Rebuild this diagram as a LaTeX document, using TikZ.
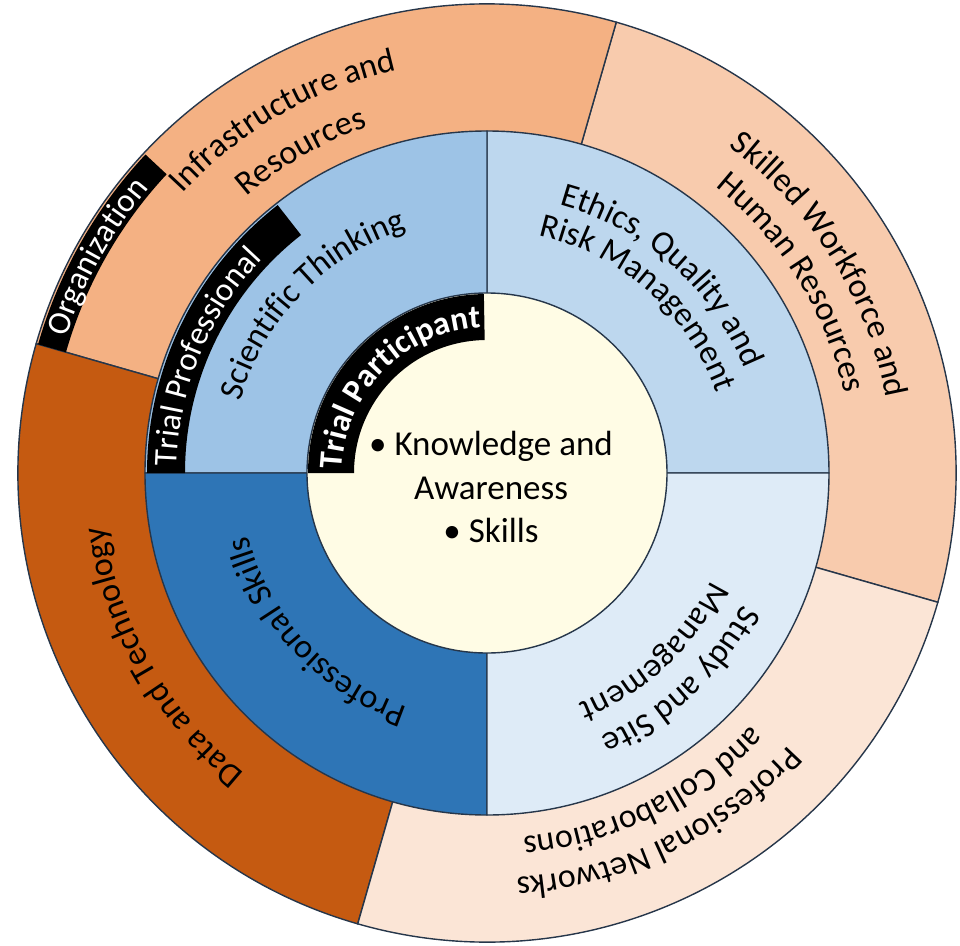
\documentclass[tikz,border=0pt]{standalone}
\usepackage{fontspec}
\setmainfont{Carlito}
\usetikzlibrary{decorations.text}
\definecolor{infra}{HTML}{F4B183}
\definecolor{workforce}{HTML}{F8CBAD}
\definecolor{networks}{HTML}{FBE5D6}
\definecolor{datatech}{HTML}{C55A11}
\definecolor{scithink}{HTML}{9DC3E6}
\definecolor{ethics}{HTML}{BDD7EE}
\definecolor{studysite}{HTML}{DEEBF7}
\definecolor{proskills}{HTML}{2E75B6}
\definecolor{core}{HTML}{FFFCE5}
\definecolor{edge}{HTML}{26364A}
\newcommand{\ringfont}{\fontsize{34}{40}\selectfont}
\newcommand{\bandfont}{\fontsize{33}{40}\selectfont\color{white}}

\begin{document}
\begin{tikzpicture}[x=1pt, y=1pt, line width=1.4pt,
		slice/.style={draw=edge},
		band/.style={fill=black},
		ringlabel/.style={decorate, decoration={text along path, text align=center,
				text={|\ringfont|#1}}},
		bandlabel/.style={decorate, decoration={text along path, text align=center,
				text={|\bandfont|#1}}},
		boldlabel/.style={decorate, decoration={text along path, text align=center,
				text={|\bandfont\bfseries|#1}}}]
			\useasboundingbox (-487,-472) rectangle (473,473);

			\foreach \a/\b/\c in {-16/74/workforce, 74/164/infra, 164/254/datatech, 254/344/networks}
				\filldraw[slice, fill=\c] (0,0) -- (\a:469) arc[start angle=\a, end angle=\b, radius=469] -- cycle;
			\foreach \a/\b/\c in {0/90/ethics, 90/180/scithink, 180/270/proskills, 270/360/studysite}
				\filldraw[slice, fill=\c] (0,0) -- (\a:342) arc[start angle=\a, end angle=\b, radius=342] -- cycle;
			\filldraw[slice, fill=core] (0,0) circle[radius=180];

			\fill[band] (137:438) arc[start angle=137, end angle=164, radius=438]
				-- (164:467) arc[start angle=164, end angle=137, radius=467] -- cycle;
			\fill[band] (128:302) arc[start angle=128, end angle=180, radius=302]
				-- (180:340) arc[start angle=180, end angle=128, radius=340] -- cycle;
			\fill[band] (91:133) arc[start angle=91, end angle=180, radius=133]
				-- (180:179) arc[start angle=180, end angle=91, radius=179] -- cycle;

			\path[bandlabel={Organization}] (201:442) arc[start angle=201, end angle=101, radius=442];
			\path[bandlabel={Trial Professional}] (212:310) arc[start angle=212, end angle=103, radius=310];
			\path[boldlabel={Trial Participant}] (195:145) arc[start angle=195, end angle=76, radius=145];

			\path[ringlabel={Infrastructure and}] (170:413) arc[start angle=170, end angle=70, radius=413];
			\path[ringlabel={Resources}] (170:366) arc[start angle=170, end angle=70, radius=366];
			\path[ringlabel={Skilled Workforce and}] (82:406) arc[start angle=82, end angle=-18, radius=406];
			\path[ringlabel={Human Resources}] (82:366) arc[start angle=82, end angle=-18, radius=366];
			\path[ringlabel={Data and Technology}] (259.5:386) arc[start angle=259.5, end angle=159.5, radius=386];
			\path[ringlabel={Professional Networks}] (346:406) arc[start angle=346, end angle=246, radius=406];
			\path[ringlabel={and Collaborations}] (346:366) arc[start angle=346, end angle=246, radius=366];

			\path[ringlabel={Scientific Thinking}] (186:257) arc[start angle=186, end angle=86, radius=257];
			\path[ringlabel={Ethics, Quality and}] (98.5:278) arc[start angle=98.5, end angle=-1.5, radius=278];
			\path[ringlabel={Risk Management}] (98.5:243) arc[start angle=98.5, end angle=-1.5, radius=243];
			\path[ringlabel={Professional Skills}] (273:247) arc[start angle=273, end angle=173, radius=247];
			\path[ringlabel={Study and Site}] (363:287) arc[start angle=363, end angle=263, radius=287];
			\path[ringlabel={Management}] (363:248) arc[start angle=363, end angle=263, radius=248];

			\node[align=center, font=\fontsize{35}{43.5}\selectfont] (core) at (4,-14)
				{\textbullet\ Knowledge and\\Awareness\\\textbullet\ Skills};
		\end{tikzpicture}
\end{document}
